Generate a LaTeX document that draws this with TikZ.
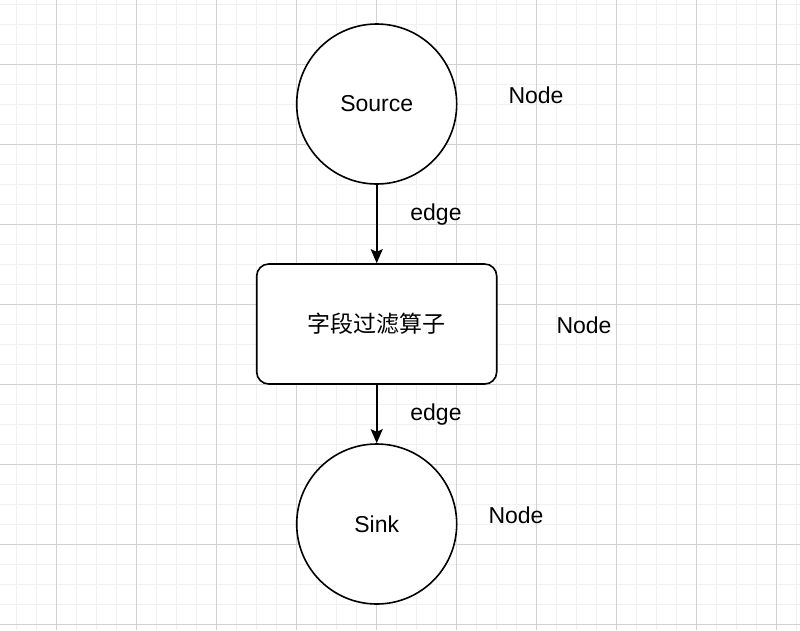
\documentclass[tikz,border=0pt]{standalone}
\usepackage{fontspec}
\setmainfont{Liberation Sans}
\newfontfamily\cjk{Noto Sans CJK SC}
\usetikzlibrary{arrows.meta}
\tikzset{
  minorgrid/.style={draw=black!6, line width=1pt},
  majorgrid/.style={draw=black!18, line width=1pt},
  circnode/.style={circle, draw=black, line width=1.6pt, fill=white, minimum size=160pt, inner sep=0pt, font=\fontsize{23}{27}\selectfont},
  boxnode/.style={rectangle, rounded corners=12pt, draw=black, line width=1.6pt, fill=white, minimum width=240pt, minimum height=120pt, inner sep=0pt, font=\fontsize{23}{27}\selectfont\cjk},
  lbl/.style={font=\fontsize{23}{27}\selectfont, inner sep=0pt},
  conn/.style={draw=black, line width=1.6pt, -{Stealth[length=14pt,width=12pt,inset=2.5pt]}}
}
\begin{document}
\begin{tikzpicture}[x=1pt,y=-1pt]
\useasboundingbox (0,0) rectangle (800,630);
\fill[white] (0,0) rectangle (800,630);
% minor grid
\foreach \i in {0,...,39} { \draw[minorgrid] (16.7+20*\i,0) -- (16.7+20*\i,630); }
\foreach \i in {0,...,31} { \draw[minorgrid] (0,4+20*\i) -- (800,4+20*\i); }
% major grid
\foreach \i in {0,...,9} { \draw[majorgrid] (56.7+80*\i,0) -- (56.7+80*\i,630); }
\foreach \i in {0,...,7} { \draw[majorgrid] (0,64+80*\i) -- (800,64+80*\i); }
% nodes
\node[circnode] (src) at (376.7,104) {Source};
\node[boxnode] (flt) at (376.7,324) {字段过滤算子};
\node[circnode] (snk) at (376.7,524) {Sink};
% edges
\draw[conn] (src) -- (flt);
\draw[conn] (flt) -- (snk);
% labels
\node[lbl] (e1) at (436,215) {edge};
\node[lbl] (e2) at (436,415) {edge};
\node[lbl] (n1) at (536,95) {Node};
\node[lbl] (n2) at (584,325) {Node};
\node[lbl] (n3) at (516,515) {Node};
\end{tikzpicture}
\end{document}
